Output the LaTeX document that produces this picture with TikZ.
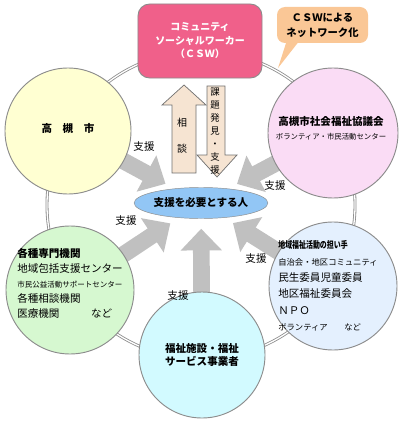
\documentclass[tikz,border=0pt]{standalone}
\usepackage{fontspec}
\setmainfont{Noto Sans CJK JP}
\usepackage{tikz}
\usetikzlibrary{arrows.meta,shapes.geometric,backgrounds}
\definecolor{cswpink}{HTML}{F0608A}
\definecolor{notepeach}{HTML}{FAC796}
\definecolor{cityyellow}{HTML}{FFFFD2}
\definecolor{councilpink}{HTML}{FADCF5}
\definecolor{expertgreen}{HTML}{D6F8D0}
\definecolor{localblue}{HTML}{E4F0FE}
\definecolor{servicecyan}{HTML}{D2FAFF}
\definecolor{personblue}{HTML}{92C6F5}
\definecolor{arrowbeige}{HTML}{F6E4D2}
\definecolor{supportgray}{HTML}{C0C0C0}
\definecolor{edgegray}{HTML}{8C8C8C}

\begin{document}
\lineskiplimit=-100pt
\begin{tikzpicture}[x=0.03cm, y=-0.03cm,
  bubble/.style={circle, draw=edgegray, line width=0.8pt, inner sep=0pt},
  support/.style={supportgray, line width=0.5cm, shorten >=0.3cm,
    -{Triangle[width=1.2cm,length=0.65cm]}},
  body/.style={font=\fontsize{9}{12.8}\selectfont},
  title/.style={font=\bfseries\fontsize{9}{11}\selectfont},
  flow/.style={draw=edgegray!80!black, fill=arrowbeige, line width=0.6pt}]
\useasboundingbox (0,0) rectangle (400,425);
% center
\node[ellipse, draw=edgegray, fill=personblue, minimum width=3.36cm, minimum height=0.93cm,
  inner sep=0pt, title] (person) at (201,203) {支援を必要とする人};
% outer nodes
\node[bubble, fill=cityyellow, minimum size=3.78cm] (city) at (68,131) {};
\node[title] (citytext) at (68,128) {高　槻　市};
\node[bubble, fill=councilpink, minimum size=3.9cm] (council) at (333,133) {};
\node[align=center] (counciltext) at (331,128)
  {{\bfseries\fontsize{9}{13}\selectfont 高槻市社会福祉協議会}\\
   {\fontsize{6.3}{13}\selectfont ボランティア・市民活動センター}};
\node[bubble, fill=expertgreen, minimum size=3.84cm] (expert) at (70,290) {};
\node[align=left, body] (experttext) at (70,283)
  {{\bfseries 各種専門機関}\\
   地域包括支援センター\\
   {\fontsize{6.4}{12.8}\selectfont 市民公益活動サポートセンター}\\
   各種相談機関\\
   医療機関　　　など};
\node[bubble, fill=localblue, minimum size=3.84cm] (local) at (333,286) {};
\node[align=left, font=\fontsize{9}{14}\selectfont] (localtext) at (328,286)
  {{\bfseries\fontsize{8}{14}\selectfont\addfontfeatures{FakeStretch=0.74}地域福祉活動の担い手}\\
   {\fontsize{7.1}{14}\selectfont 自治会・地区コミュニティ}\\
   民生委員児童委員\\
   地区福祉委員会\\
   ＮＰＯ\\
   {\fontsize{7.1}{14}\selectfont ボランティア　　など}};
\node[bubble, fill=servicecyan, minimum size=3.78cm, align=center,
  font=\bfseries\fontsize{9}{11}\selectfont] (service) at (202,355)
  {福祉施設・福祉\\サービス事業者};
\node[rectangle, rounded corners=0.35cm, draw=edgegray, line width=0.8pt, fill=cswpink,
  minimum width=3.72cm, minimum height=2.22cm, align=center, text=white,
  font=\bfseries\fontsize{8.5}{11.5}\selectfont] (csw) at (200,41)
  {コミュニティ\\ソーシャルワーカー\\（ＣＳＷ）};
% note
\coordinate (tip) at (278,68);
\fill[notepeach] (287,40) -- (tip) -- (300,40) -- cycle;
\node[rectangle, rounded corners=0.24cm, fill=notepeach, minimum width=2.73cm,
  minimum height=1.08cm, align=center, font=\bfseries\fontsize{8.8}{12.8}\selectfont]
  (note) at (322.5,25) {ＣＳＷによる\\ネットワーク化};
% ring and support arrows
\begin{scope}[on background layer]
\draw[edgegray, line width=0.7pt, double=white, double distance=1.1pt]
  (201,205) circle [radius=4.62cm];
\draw[support] (city.center) -- (person);
\draw[support] (council.center) -- (person);
\draw[support] (expert.center) -- (person);
\draw[support] (local.center) -- (person);
\draw[support] (service.center) -- (person);
\end{scope}
\node[body] (s1) at (144,147) {支援};
\node[body] (s2) at (275,186) {支援};
\node[body] (s3) at (126,221) {支援};
\node[body] (s4) at (256,259) {支援};
\node[body] (s5) at (178,296) {支援};
% consult / find
\draw[flow] (172,173) -- (172,105) -- (162,105) -- (184,85) -- (206,105)
  -- (196,105) -- (196,173) -- cycle;
\draw[flow] (207,86) -- (207,155) -- (197,155) -- (217,177) -- (237,155)
  -- (225,155) -- (225,86) -- cycle;
\node[align=center, font=\fontsize{8.5}{22}\selectfont] (consult) at (182,136) {相\\談};
\node[align=center, font=\fontsize{8}{11}\selectfont] (find) at (215,131)
  {課\\題\\発\\見\\・\\支\\援};
\end{tikzpicture}
\end{document}
